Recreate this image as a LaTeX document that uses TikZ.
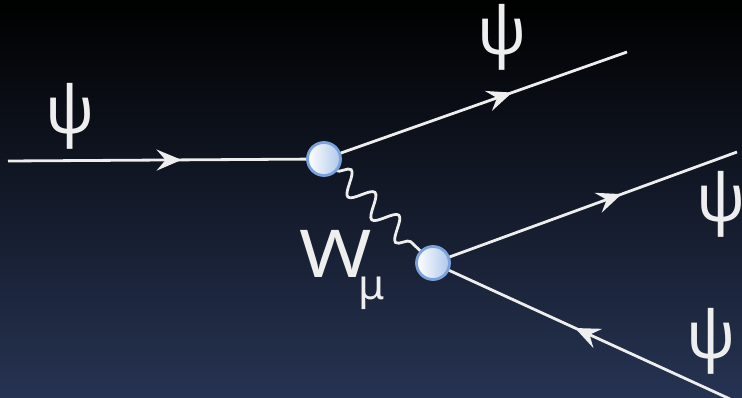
\documentclass[tikz,border=0pt]{standalone}
\usepackage{fontspec}
\setmainfont{Noto Sans}
\usetikzlibrary{arrows.meta,decorations.pathmorphing,decorations.markings}
\definecolor{bgtop}{RGB}{0,0,0}
\definecolor{bgbot}{RGB}{38,51,82}
\definecolor{ln}{RGB}{238,238,238}
\definecolor{vfill}{RGB}{176,199,234}
\definecolor{vdraw}{RGB}{122,163,222}
\tikzset{
  fermion/.style={draw=ln, line width=2.8pt, postaction={decorate},
    decoration={markings, mark=at position #1 with {\arrow{Stealth[length=25pt,width=21pt,inset=9pt]}}}},
  boson/.style={draw=ln, line width=2.8pt, decorate,
    decoration={snake, amplitude=11pt, segment length=33pt}},
  vertexspot/.style={circle, minimum size=33pt, inner sep=0pt},
  vertexdot/.style={vertexspot, draw=vdraw, line width=2.8pt,
    left color=white, right color=vfill},
  psilabel/.style={text=ln, inner sep=0pt, font=\fontsize{66}{66}\selectfont},
  wlabel/.style={text=ln, inner sep=0pt, font=\fontsize{66}{66}\selectfont}
}
\begin{document}
\begin{tikzpicture}[x=1pt,y=-1pt]
  \useasboundingbox (0,0) rectangle (742,398);
  \shade[top color=bgtop, bottom color=bgbot] (0,0) rectangle (742,398);
  % vertex positions
  \node[vertexspot] (v1) at (324,159) {};
  \node[vertexspot] (v2) at (433,263) {};
  % free ends
  \coordinate (in) at (8,161);
  \coordinate (out1) at (627,52);
  \coordinate (out2) at (737,152);
  \coordinate (out3) at (730,399);
  % lines
  \draw[fermion=0.58] (in) -- (v1);
  \draw[fermion=0.6] (v1) -- (out1);
  \draw[fermion=0.6] (v2) -- (out2);
  \draw[fermion=0.55] (out3) -- (v2);
  \draw[boson] (v1) -- (v2);
  % vertices on top
  \node[vertexdot] at (v1) {};
  \node[vertexdot] at (v2) {};
  % labels
  \node[psilabel] (p1) at (70,116) {ψ};
  \node[psilabel] (p2) at (502,37) {ψ};
  \node[psilabel] (p3) at (721,204) {ψ};
  \node[psilabel] (p4) at (711,341) {ψ};
  \node[wlabel, anchor=base west] (w) at (299,277) {\scalebox{1.18}[1]{W}\kern-13pt\raisebox{-22pt}{\fontsize{42}{42}\selectfont μ}};
\end{tikzpicture}
\end{document}
